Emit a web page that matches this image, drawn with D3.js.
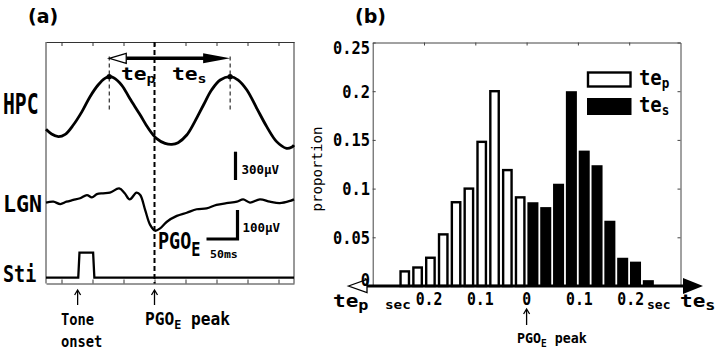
<!DOCTYPE html>
<html>
<head>
<meta charset="utf-8">
<script src="https://cdn.jsdelivr.net/npm/d3@7"></script>
<style>
  body { margin: 0; background: #fff; }
  svg { display: block; }
</style>
</head>
<body>
<svg id="chart"></svg>
<script>
// ---- data ----
// panel (a): traces, time in ms (0 = PGO_E peak)
const hpcT = [-175, -166, -155, -144, -131, -117, -104, -91, -80, -73, -66, -53, -40, -23, -10, 3, 17, 28, 38, 52, 65, 79, 92, 106, 122, 135, 149, 165, 181, 197, 213, 221, 225];
const hpcV = [-183, -233, -261, -237, -138, 4, 162, 286, 357, 374, 364, 286, 145, -32, -173, -279, -332, -343, -325, -244, -102, 74, 233, 339, 374, 339, 233, 39, -155, -314, -385, -374, -350];
const lgnT = [-175, -163, -152, -142, -131, -120, -109, -101, -93, -83, -72, -57, -48, -40, -29, -23, -15, -7, 1, 9, 20, 36, 52, 68, 84, 100, 116, 133, 143, 154, 170, 186, 202, 219, 225];
const lgnV = [-2, 1, -7, 1, 7, 13, 24, 16, 27, 30, 32, 47, 30, 9, 32, 24, -28, -79, -99, -91, -68, -48, -37, -25, -22, -10, -4, 1, 9, -2, 9, 1, -4, 4, 9];
const stiT = [-175, -123, -121, -99, -97, 225];
const stiV = [0, 0, 1, 1, 0, 0];
const peakT = [-73, 122];          // HPC peaks used for te_p / te_s
const toneOnset = -124;
const timeTicks = [-150, -100, -50, 0, 50, 100, 150, 200];

// panel (b): histogram, bins of 0.025 s
const tepBins = [-0.25, -0.225, -0.2, -0.175, -0.15, -0.125, -0.1, -0.075, -0.05, -0.025];
const tepVals = [0.015, 0.019, 0.029, 0.053, 0.086, 0.100, 0.148, 0.200, 0.119, 0.091];
const tesBins = [0, 0.025, 0.05, 0.075, 0.1, 0.125, 0.15, 0.175, 0.2, 0.225];
const tesVals = [0.086, 0.081, 0.105, 0.200, 0.139, 0.124, 0.067, 0.029, 0.025, 0.006];
const binW = 0.025;
const yTicks = [0, 0.05, 0.1, 0.15, 0.2, 0.25];
const yTickLabels = ['0', '0.05', '0.1', '0.15', '0.2', '0.25'];
const xTicks = [-0.2, -0.1, 0, 0.1, 0.2];
const xTickLabels = ['0.2', '0.1', '0', '0.1', '0.2'];

const MONO = "'DejaVu Sans Mono', monospace";
const SANS = "'DejaVu Sans', sans-serif";

const svg = d3.select('#chart').attr('width', 720).attr('height', 353);
svg.append('rect').attr('width', 720).attr('height', 353).attr('fill', '#fff');

// text helper: parts = [[string, isSub], ...]
function label(g, x, y, parts, o) {
    const t = g.append('text')
        .attr('transform', `translate(${x},${y}) scale(${o.sx || 1},1)`)
        .attr('font-family', o.family || MONO)
        .attr('font-size', o.size)
        .attr('font-weight', o.weight || 'bold')
        .attr('text-anchor', o.anchor || 'start')
        .attr('fill', '#000');
    let shifted = false;
    parts.forEach(p => {
        const ts = t.append('tspan').text(p[0]);
        if (p[1]) {
            ts.attr('font-size', o.subSize || o.size * 0.7).attr('dy', o.subDy || o.size * 0.3);
            shifted = true;
        } else if (shifted) {
            ts.attr('dy', -(o.subDy || o.size * 0.3));
            shifted = false;
        }
    });
    return t;
}

function upArrow(g, x, y0, y1) {
    g.append('line').attr('x1', x).attr('x2', x).attr('y1', y0 + 1).attr('y2', y1)
        .attr('stroke', '#000').attr('stroke-width', 1.3);
    g.append('path').attr('d', `M${x - 3},${y0 + 5}L${x},${y0}L${x + 3},${y0 + 5}`)
        .attr('fill', 'none').attr('stroke', '#000').attr('stroke-width', 1.3);
}

// ================= panel (a) =================
const A = svg.append('g');
const xT = d3.scaleLinear().domain([-175, 225]).range([46, 294]);
const yH = d3.scaleLinear().domain([0, 300]).range([112, 83.7]);
const yL = d3.scaleLinear().domain([0, 100]).range([202, 173]);
const yS = d3.scaleLinear().domain([0, 1]).range([277.7, 252.7]);
const aTop = 42, aBot = 283.5;

label(A, 28, 23, [['(a)']], { size: 19, family: SANS });

// frame
A.append('g').attr('transform', `translate(0,${aTop})`)
    .call(d3.axisTop(xT).tickValues(timeTicks).tickSize(-4).tickSizeOuter(0).tickFormat(''));
A.append('g').attr('transform', `translate(0,${aBot})`)
    .call(d3.axisBottom(xT).tickValues(timeTicks).tickSize(-4).tickSizeOuter(0).tickFormat(''));
xT.range().forEach(x => {
    A.append('line').attr('x1', x).attr('x2', x).attr('y1', aTop).attr('y2', aBot)
        .attr('stroke', '#333').attr('stroke-width', 1);
});
A.selectAll('.domain, .tick line').attr('stroke', '#333');

// PGO_E peak dashed line
A.append('line').attr('x1', xT(0)).attr('x2', xT(0)).attr('y1', aTop).attr('y2', aBot)
    .attr('stroke', '#000').attr('stroke-width', 2).attr('stroke-dasharray', '5,3');

// traces
const hpc = hpcT.map((t, i) => [t, hpcV[i]]);
const lgn = lgnT.map((t, i) => [t, lgnV[i]]);
const sti = stiT.map((t, i) => [t, stiV[i]]);

A.append('path').datum(hpc)
    .attr('d', d3.line().x(d => xT(d[0])).y(d => yH(d[1])).curve(d3.curveCatmullRom))
    .attr('fill', 'none').attr('stroke', '#000').attr('stroke-width', 2.8);
A.append('path').datum(lgn)
    .attr('d', d3.line().x(d => xT(d[0])).y(d => yL(d[1])).curve(d3.curveCatmullRom))
    .attr('fill', 'none').attr('stroke', '#000').attr('stroke-width', 2.3);
A.append('path').datum(sti)
    .attr('d', d3.line().x(d => xT(d[0])).y(d => yS(d[1])))
    .attr('fill', 'none').attr('stroke', '#000').attr('stroke-width', 2.3);

// peaks, dashed guides, te arrow
const peakV = peakT.map(t => hpcV[hpcT.indexOf(t)]);
peakT.forEach((t, i) => {
    A.append('line').attr('x1', xT(t)).attr('x2', xT(t)).attr('y1', 56.5).attr('y2', 110)
        .attr('stroke', '#000').attr('stroke-width', 1).attr('stroke-dasharray', '4,3');
    A.append('circle').attr('cx', xT(t)).attr('cy', yH(peakV[i])).attr('r', 2.6).attr('fill', '#000');
});
const ay = 58.3, p0 = xT(peakT[0]), p1 = xT(peakT[1]);
A.append('line').attr('x1', p0 + 17).attr('x2', p1 - 24).attr('y1', ay).attr('y2', ay)
    .attr('stroke', '#000').attr('stroke-width', 3.4);
A.append('path').attr('d', `M${p0},${ay}L${p0 + 17},${ay - 5}L${p0 + 17},${ay + 5}Z`)
    .attr('fill', '#fff').attr('stroke', '#000').attr('stroke-width', 1.3);
A.append('path').attr('d', `M${p1},${ay}L${p1 - 27},${ay - 5}L${p1 - 27},${ay + 5}Z`)
    .attr('fill', '#000');
label(A, 121, 80, [['te'], ['p', true]], { size: 18.5, sx: 1.15, subSize: 13, subDy: 3 });
label(A, 172, 80, [['te'], ['s', true]], { size: 18.5, sx: 1.15, subSize: 13, subDy: 3 });

// channel labels
label(A, 3, 114, [['HPC']], { size: 29, sx: 0.68 });
label(A, 3, 211.5, [['LGN']], { size: 23, sx: 0.94 });
label(A, 3, 281.5, [['Sti']], { size: 23, sx: 0.8 });

// scale bars
A.append('line').attr('x1', 235.5).attr('x2', 235.5).attr('y1', 151.7).attr('y2', 151.7 + (yH(0) - yH(300)))
    .attr('stroke', '#000').attr('stroke-width', 3.2);
label(A, 241.5, 173.5, [['300µV']], { size: 12.5 });
const sbx = 237.5, sby = 239;
A.append('path')
    .attr('d', `M${sbx - (xT(50) - xT(0))},${sby}H${sbx}V${sby - (yL(0) - yL(100))}`)
    .attr('fill', 'none').attr('stroke', '#000').attr('stroke-width', 3.2);
label(A, 242.5, 231.5, [['100µV']], { size: 12.5 });
label(A, 210, 257.5, [['50ms']], { size: 11, sx: 1.05 });
label(A, 158, 248.5, [['PGO'], ['E', true]], { size: 23, sx: 0.8, subSize: 19, subDy: 7.5 });

// bottom annotations
upArrow(A, xT(toneOnset), 290, 305);
upArrow(A, xT(0), 290, 305);
label(A, 61, 325, [['Tone']], { size: 16, sx: 0.86 });
label(A, 61, 346.5, [['onset']], { size: 16, sx: 0.86 });
label(A, 145, 325, [['PGO'], ['E', true], [' peak']], { size: 18, sx: 0.9, subSize: 13, subDy: 4 });

// ================= panel (b) =================
const B = svg.append('g');
const xs = d3.scaleLinear().domain([-0.3, 0.3]).range([372.7, 680.5]);
const ys = d3.scaleLinear().domain([0, 0.25]).range([286, 42.5]);

label(B, 355, 23, [['(b)']], { size: 19, family: SANS });

B.append('g').attr('transform', `translate(${xs.range()[0]},0)`)
    .call(d3.axisLeft(ys).tickValues(yTicks).tickSize(-3).tickSizeOuter(0).tickFormat(''));
B.append('g').attr('transform', `translate(${xs.range()[1]},0)`)
    .call(d3.axisRight(ys).tickValues(yTicks).tickSize(-3).tickSizeOuter(0).tickFormat(''));
B.append('g').attr('transform', `translate(0,${ys.range()[1]})`)
    .call(d3.axisTop(xs).tickValues(xTicks).tickSize(-3).tickSizeOuter(0).tickFormat(''));
B.selectAll('.domain, .tick line').attr('stroke', '#444');

// bars
const bw = xs(binW) - xs(0);
B.selectAll('rect.tep').data(tepBins).enter().append('rect').attr('class', 'tep')
    .attr('x', d => xs(d) + 2.2)
    .attr('width', bw - 4.4)
    .attr('y', (d, i) => ys(tepVals[i]))
    .attr('height', (d, i) => ys(0) - ys(tepVals[i]))
    .attr('fill', '#fff').attr('stroke', '#000').attr('stroke-width', 2.4);
B.selectAll('rect.tes').data(tesBins).enter().append('rect').attr('class', 'tes')
    .attr('x', d => xs(d) + 0.8)
    .attr('width', bw - 1.8)
    .attr('y', (d, i) => ys(tesVals[i]))
    .attr('height', (d, i) => ys(0) - ys(tesVals[i]))
    .attr('fill', '#000');

// arrow axis
const y0 = ys(0);
B.append('line').attr('x1', 366).attr('x2', 690).attr('y1', y0).attr('y2', y0)
    .attr('stroke', '#000').attr('stroke-width', 3);
B.append('path').attr('d', `M348.5,${y0}L367,${y0 - 6.5}L367,${y0 + 6.5}Z`)
    .attr('fill', '#fff').attr('stroke', '#000').attr('stroke-width', 1.3);
B.append('path').attr('d', `M703,${y0}L683,${y0 - 8}L683,${y0 + 8}Z`).attr('fill', '#000');

// tick labels
yTicks.forEach((v, i) => {
    const cy = Math.min(Math.max(ys(v), 47), 279);
    label(B, 370, cy + 6.5, [[yTickLabels[i]]], { size: 18.5, sx: 0.83, anchor: 'end' });
});
xTicks.forEach((v, i) => {
    const dx = v < 0 ? 5 : (v > 0 ? 1.5 : 0);
    label(B, xs(v) + dx, 305, [[xTickLabels[i]]], { size: 18.5, sx: 0.8, anchor: 'middle' });
});

// axis titles
B.append('text')
    .attr('transform', 'translate(322,169) rotate(-90)')
    .attr('font-family', MONO).attr('font-size', 13.5)
    .attr('text-anchor', 'middle')
    .attr('textLength', 85).attr('lengthAdjust', 'spacingAndGlyphs')
    .text('proportion');
label(B, 333, 306.5, [['te'], ['p', true]], { size: 17.5, sx: 1.2, subSize: 14, subDy: 3 });
label(B, 680, 306.5, [['te'], ['s', true]], { size: 17.5, sx: 1.2, subSize: 14, subDy: 3 });
label(B, 385, 309, [['sec']], { size: 13, sx: 1.1 });
label(B, 647, 309, [['sec']], { size: 13, sx: 1.0 });
upArrow(B, xs(0), 309, 325);
label(B, 517, 343, [['PGO'], ['E', true], [' peak']], { size: 14, sx: 0.95, subSize: 10, subDy: 3.5 });

// legend
B.append('rect').attr('x', 588).attr('y', 72.5).attr('width', 42.5).attr('height', 14)
    .attr('fill', '#fff').attr('stroke', '#000').attr('stroke-width', 2.4);
B.append('rect').attr('x', 587).attr('y', 98).attr('width', 44.5).attr('height', 17)
    .attr('fill', '#000');
label(B, 639, 85, [['te'], ['p', true]], { size: 21, sx: 0.9, subSize: 14, subDy: 3 });
label(B, 639, 112, [['te'], ['s', true]], { size: 21, sx: 0.9, subSize: 14, subDy: 3 });
</script>
</body>
</html>
